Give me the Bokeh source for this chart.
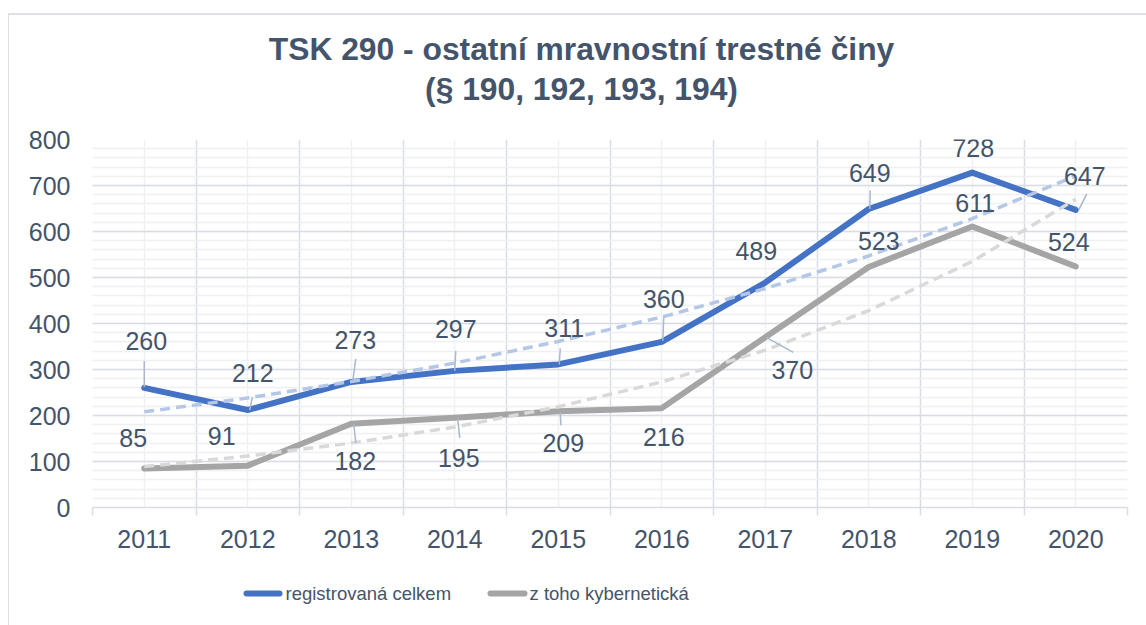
import numpy as np
from bokeh.plotting import figure
from bokeh.layouts import column
from bokeh.models import Range1d, FixedTicker, ColumnDataSource
from bokeh.core.properties import value
from bokeh.embed import file_html
from bokeh.resources import INLINE

# ---- data ----
years = ["2011", "2012", "2013", "2014", "2015", "2016", "2017", "2018", "2019", "2020"]
registered = [260, 212, 273, 297, 311, 360, 489, 649, 728, 647]
cyber = [85, 91, 182, 195, 209, 216, 370, 523, 611, 524]
# trend lines (exponential trend)
registered_trend = [208, 238, 274, 314, 361, 414, 476, 547, 628, 721]
cyber_trend = [89, 112, 140, 175, 219, 273, 342, 428, 535, 670]

series_names = ["registrovaná celkem", "z toho kybernetická"]
title_lines = ["TSK 290 - ostatní mravnostní trestné činy", "(§ 190, 192, 193, 194)"]

# ---- style ----
TXT = "#44546a"
BLUE = "#4472c4"
GRAY = "#a5a5a5"
BLUE_T = "#b4c7e7"
GRAY_T = "#d9d9d9"
GRID = "#d9dde3"
MINOR = "#eef0f3"
LEAD = "#a9b8cc"
FRAME = "#dde1e6"
FONT = "Liberation Sans"

W = 1146
H_TOP, H_MAIN, H_LEG = 110, 465, 50
LB, RB, TB, BB = 92, 19, 29, 68
FW, FH = W - LB - RB, H_MAIN - TB - BB
YMAX = 800
n = len(years)
xs = np.arange(n) + 0.5
px_x = FW / n
px_y = FH / YMAX

VLINE = f"linear-gradient(to right, transparent 8px, {FRAME} 8px, {FRAME} 9.5px, transparent 9.5px)"

# label offsets (px, screen: +y down)
b_dx = [2, 5, 4, 1, 6, 2, -9, 1, 1, 9]
b_dy = [-47, -37, -42, -42, -36, -43, -32, -36, -25, -34]
g_dx = [-11, -26, 4, 4, 5, 2, 27, 10, 3, -7]
g_dy = [-30, -30, 37, 40, 32, 29, 33, -26, -23, -24]

# leader lines: (series, index, x0, y0, x1, y1) in px relative to point (screen)
leaders = [
    ("b", 0, 0, -1, 0, -27),
    ("b", 1, 2, 0, 4.6, -13),
    ("b", 2, 1.5, -1, 4.5, -23),
    ("b", 3, 0, 0, 1, -20),
    ("b", 4, 1, 0, 2, -16),
    ("b", 5, 1, -1, 2, -25),
    ("b", 7, 1, 0, 1.5, -18.5),
    ("b", 9, 3, 0, 11, -16),
    ("g", 2, 2.5, 0, 4.5, 19),
    ("g", 3, 3, 1, 5, 20),
    ("g", 4, 2, 1, 2.7, 14),
    ("g", 6, 1, 0, 28, 15),
]


def blank(h, css):
    # frames of a column are aligned with the main plot's frame, so x is page px in [LB, W-RB]
    f = figure(width=W, height=h, output_backend="svg", toolbar_location=None,
               x_range=Range1d(LB, W - RB), y_range=Range1d(0, h), min_border=0,
               x_axis_type=None, y_axis_type=None, outline_line_color=None,
               background_fill_alpha=0, border_fill_alpha=0)
    f.grid.visible = False
    f.styles = {"background": css}
    return f


# ---- title strip ----
top = blank(H_TOP, VLINE + " 0 13px / 100% 100% no-repeat, "
            f"linear-gradient(to bottom, white 13px, {FRAME} 13px, {FRAME} 14.5px, white 14.5px) "
            "8px 0 / 100% 100% no-repeat, white")
top.text([581, 581], [H_TOP - 48, H_TOP - 88], text=title_lines,
         text_align="center", text_baseline="middle", text_font=value(FONT),
         text_font_style="bold", text_font_size="31.8px", text_color=TXT)

# ---- main plot ----
p = figure(width=W, height=H_MAIN, output_backend="svg", toolbar_location=None,
           x_range=Range1d(0, n), y_range=Range1d(0, YMAX),
           min_border_left=LB, min_border_right=RB, min_border_top=TB, min_border_bottom=BB,
           outline_line_color=None, background_fill_color="white",
           border_fill_color="white", border_fill_alpha=0)
p.title = None
p.styles = {"background": VLINE + ", white"}

p.xgrid.ticker = FixedTicker(ticks=list(range(n + 1)), minor_ticks=list(xs))
p.xgrid.grid_line_color = GRID
p.xgrid.grid_line_width = 1.5
p.xgrid.minor_grid_line_color = MINOR
p.xgrid.minor_grid_line_width = 1.5
p.ygrid.ticker = FixedTicker(ticks=list(range(0, YMAX + 1, 100)),
                             minor_ticks=list(range(0, YMAX + 1, 20)))
p.ygrid.grid_line_color = GRID
p.ygrid.grid_line_width = 1.5
p.ygrid.minor_grid_line_color = MINOR
p.ygrid.minor_grid_line_width = 1.5

p.xaxis.ticker = FixedTicker(ticks=list(xs), minor_ticks=list(range(n + 1)))
p.xaxis.major_label_overrides = {float(x): y for x, y in zip(xs, years)}
p.xaxis.axis_line_color = GRID
p.xaxis.axis_line_width = 1.5
p.xaxis.major_tick_line_color = None
p.xaxis.major_tick_out = 0
p.xaxis.major_tick_in = 0
p.xaxis.minor_tick_line_color = GRID
p.xaxis.minor_tick_line_width = 1.5
p.xaxis.minor_tick_in = 0
p.xaxis.minor_tick_out = 8
p.xaxis.major_label_standoff = 14
p.yaxis.ticker = FixedTicker(ticks=list(range(0, YMAX + 1, 100)))
p.yaxis.axis_line_color = None
p.yaxis.major_tick_line_color = None
p.yaxis.major_tick_out = 0
p.yaxis.major_tick_in = 0
p.yaxis.minor_tick_line_color = None
p.yaxis.major_label_standoff = 22
for ax in (p.xaxis[0], p.yaxis[0]):
    ax.major_label_text_font = FONT
    ax.major_label_text_font_size = "25px"
    ax.major_label_text_color = TXT

p.line(xs, registered, line_color=BLUE, line_width=6, line_join="round", line_cap="round")
p.line(xs, cyber, line_color=GRAY, line_width=6, line_join="round", line_cap="round")
p.line(xs, registered_trend, line_color=BLUE_T, line_width=3.5, line_dash="10 6")
p.line(xs, cyber_trend, line_color=GRAY_T, line_width=3.5, line_dash="10 6")

vals = {"b": registered, "g": cyber}
x0, y0, x1, y1 = [], [], [], []
for s, i, a, b, c, d in leaders:
    v = vals[s][i]
    x0.append(xs[i] + a / px_x); y0.append(v - b / px_y)
    x1.append(xs[i] + c / px_x); y1.append(v - d / px_y)
p.segment(x0, y0, x1, y1, line_color=LEAD, line_width=1.5)

for vals_, dx, dy in ((registered, b_dx, b_dy), (cyber, g_dx, g_dy)):
    src = ColumnDataSource(dict(x=xs, y=vals_, t=[str(v) for v in vals_], dx=dx, dy=dy))
    p.text("x", "y", text="t", x_offset="dx", y_offset="dy", source=src,
           text_align="center", text_baseline="middle", text_font_size="25px",
           text_color=TXT, text_font=value(FONT))

# ---- legend strip ----
leg = blank(H_LEG, VLINE + ", white")
ly = H_LEG - 18
leg.segment([246, 490], [ly, ly], [279, 524], [ly, ly], line_color=[BLUE, GRAY],
            line_width=6, line_cap="round")
leg.text([285, 529], [ly, ly], text=series_names, text_align="left", text_baseline="middle",
         text_font=value(FONT), text_font_size="18.5px", text_color=TXT)

layout = column(top, p, leg, spacing=0)
open("out.html", "w").write(file_html(layout, INLINE))
